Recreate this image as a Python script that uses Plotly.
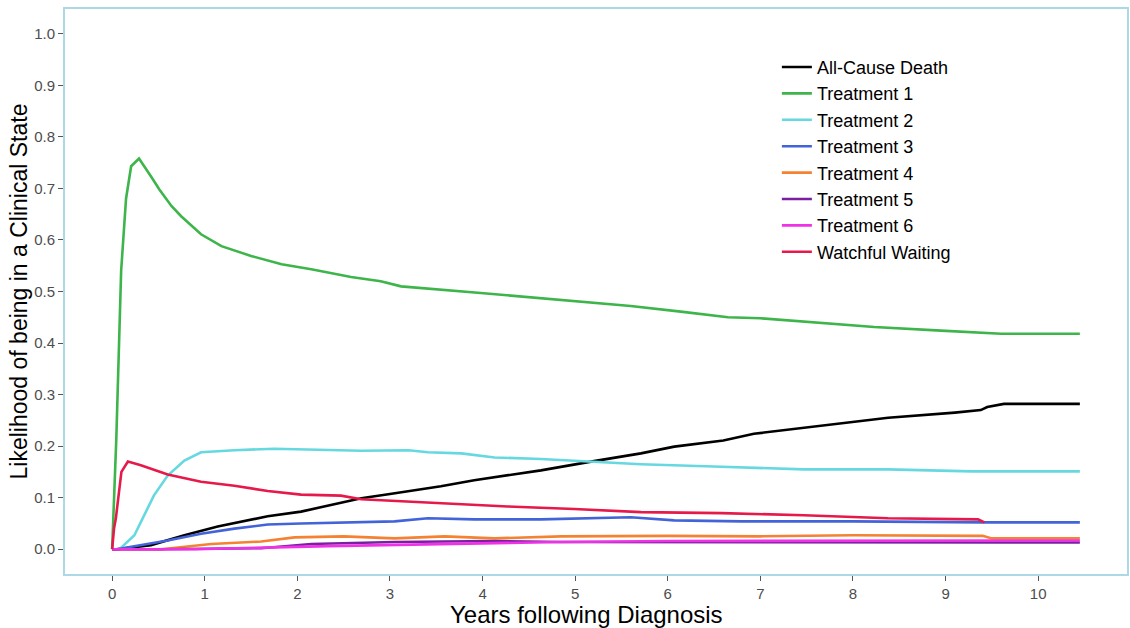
import plotly.graph_objects as go

# ---- data ----
death_t = [0.0, 0.05, 0.42, 0.78, 1.14, 1.68, 2.04, 2.4, 2.69, 3.0, 3.55, 3.91, 4.63, 5.17, 5.71, 6.07, 6.6, 6.93, 7.66, 8.38, 9.1, 9.38, 9.45, 9.63, 10.45]
death_v = [0.0, 0.0, 0.008, 0.027, 0.044, 0.064, 0.073, 0.087, 0.099, 0.107, 0.122, 0.134, 0.153, 0.170, 0.186, 0.199, 0.211, 0.224, 0.240, 0.255, 0.265, 0.270, 0.276, 0.282, 0.282]

t1_t = [0.0, 0.045, 0.097, 0.15, 0.205, 0.29, 0.42, 0.51, 0.64, 0.745, 0.96, 1.18, 1.5, 1.83, 2.15, 2.58, 2.9, 3.12, 3.98, 4.92, 5.6, 6.14, 6.65, 7.0, 7.5, 8.23, 8.95, 9.6, 10.45]
t1_v = [0.0, 0.215, 0.54, 0.68, 0.743, 0.758, 0.723, 0.698, 0.666, 0.646, 0.611, 0.588, 0.569, 0.553, 0.543, 0.528, 0.520, 0.510, 0.497, 0.482, 0.472, 0.461, 0.450, 0.448, 0.441, 0.431, 0.424, 0.418, 0.418]

t2_t = [0.0, 0.08, 0.24, 0.35, 0.45, 0.6, 0.78, 0.96, 1.32, 1.75, 2.47, 2.69, 3.2, 3.41, 3.77, 4.13, 4.63, 5.17, 5.71, 6.58, 7.47, 8.38, 9.28, 10.45]
t2_v = [0.0, 0.0, 0.027, 0.066, 0.104, 0.143, 0.172, 0.188, 0.192, 0.195, 0.192, 0.191, 0.192, 0.188, 0.186, 0.178, 0.175, 0.170, 0.165, 0.160, 0.155, 0.155, 0.151, 0.151]

t3_t = [0.0, 0.05, 0.6, 0.96, 1.32, 1.68, 2.04, 2.69, 3.05, 3.41, 3.91, 4.63, 5.6, 6.07, 6.79, 8.0, 9.4, 10.45]
t3_v = [0.0, 0.0, 0.017, 0.030, 0.040, 0.048, 0.050, 0.052, 0.054, 0.060, 0.058, 0.058, 0.062, 0.056, 0.054, 0.054, 0.052, 0.052]

t4_t = [0.0, 0.53, 1.07, 1.61, 1.97, 2.5, 3.05, 3.59, 4.13, 4.85, 6.0, 7.0, 8.0, 9.0, 9.4, 9.5, 10.45]
t4_v = [0.0, 0.0, 0.010, 0.015, 0.023, 0.025, 0.021, 0.025, 0.021, 0.025, 0.026, 0.025, 0.027, 0.026, 0.026, 0.021, 0.021]

t5_t = [0.0, 0.5, 1.61, 2.15, 3.05, 4.13, 4.85, 6.0, 7.0, 8.0, 9.0, 10.45]
t5_v = [0.0, 0.0, 0.002, 0.010, 0.014, 0.016, 0.014, 0.014, 0.013, 0.014, 0.013, 0.013]

t6_t = [0.0, 0.9, 2.33, 3.41, 4.85, 6.0, 7.0, 8.0, 9.0, 10.45]
t6_v = [0.0, 0.0, 0.006, 0.010, 0.014, 0.016, 0.016, 0.016, 0.016, 0.017]

ww_t = [0.0, 0.02, 0.04, 0.1, 0.17, 0.31, 0.6, 0.96, 1.32, 1.68, 2.04, 2.47, 2.69, 3.55, 4.27, 4.99, 5.71, 6.58, 7.47, 8.38, 9.35, 9.42]
ww_v = [0.0, 0.04, 0.06, 0.15, 0.170, 0.163, 0.145, 0.131, 0.123, 0.113, 0.106, 0.104, 0.097, 0.089, 0.083, 0.078, 0.072, 0.070, 0.066, 0.060, 0.058, 0.052]

names = ["All-Cause Death", "Treatment 1", "Treatment 2", "Treatment 3",
         "Treatment 4", "Treatment 5", "Treatment 6", "Watchful Waiting"]
colors = ["#000000", "#3DB54A", "#66D8E0", "#4363D8", "#F58231", "#7B1FA2", "#F032E6", "#E6194B"]
series = [(death_t, death_v), (t1_t, t1_v), (t2_t, t2_v), (t3_t, t3_v),
          (t4_t, t4_v), (t5_t, t5_v), (t6_t, t6_v), (ww_t, ww_v)]

x_ticks = list(range(0, 11))
y_ticks = [round(i * 0.1, 1) for i in range(11)]

fig = go.Figure()
for name, col, (t, v) in zip(names, colors, series):
    fig.add_trace(go.Scatter(x=t, y=v, mode="lines", name=name,
                             line=dict(color=col, width=2.6), legendgroup=name))

fig.update_layout(
    width=1130, height=628,
    margin=dict(l=64, r=2, t=8, b=53),
    paper_bgcolor="white", plot_bgcolor="white",
    font=dict(family="Liberation Sans, Arial, sans-serif"),
    showlegend=True,
    legend=dict(x=0.670, y=0.928, xanchor="left", yanchor="top",
                font=dict(size=18, color="black"), bgcolor="rgba(0,0,0,0)",
                tracegroupgap=0),
    xaxis=dict(range=[-0.52, 10.97], tickvals=x_ticks, ticktext=[str(v) for v in x_ticks],
               showgrid=False, zeroline=False, ticks="outside", ticklen=5, tickcolor="#555555",
               tickfont=dict(size=15, color="#4D4D4D"), automargin=False),
    yaxis=dict(range=[-0.05, 1.05], tickvals=y_ticks, ticktext=[f"{v:.1f}" for v in y_ticks],
               showgrid=False, zeroline=False, ticks="outside", ticklen=5, tickcolor="#555555",
               tickfont=dict(size=15, color="#4D4D4D"), automargin=False,
               title=dict(text="Likelihood of being in a Clinical State", font=dict(size=23, color="black"), standoff=0)),
    annotations=[dict(text="Years following Diagnosis", xref="paper", yref="paper",
                      x=0.4915, y=-0.0705, xanchor="center", yanchor="middle", showarrow=False,
                      font=dict(size=24, color="black"))],
    shapes=[dict(type="rect", xref="paper", yref="paper", x0=0, y0=0, x1=1, y1=1,
                 line=dict(color="#ADD8E6", width=2), fillcolor="rgba(0,0,0,0)", layer="above")],
)

fig.write_html("out.html", config={"displayModeBar": False},
               post_script="document.body.style.margin='0px';document.body.style.overflow='hidden';")
